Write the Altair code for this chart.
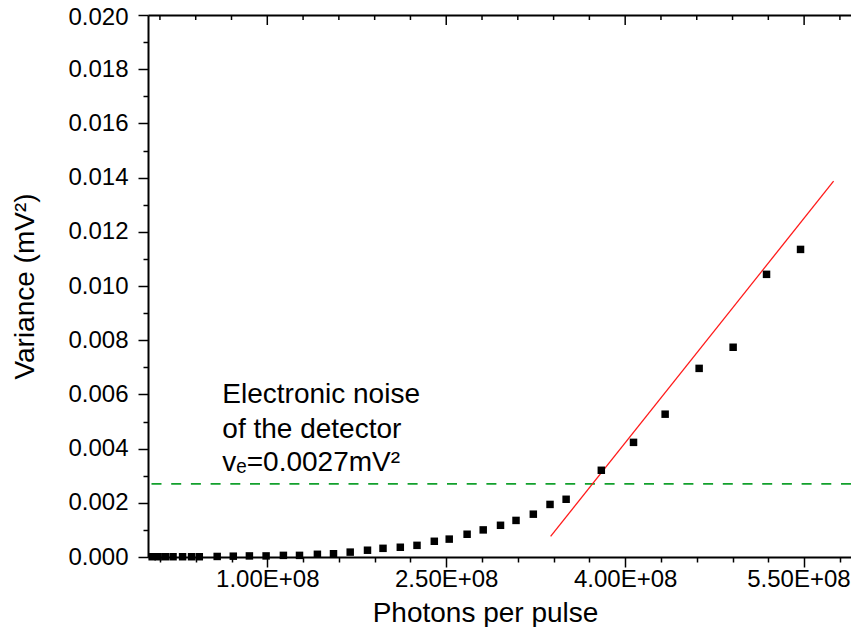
import altair as alt
import pandas as pd

# ---------------- data ----------------
photons = [0.035e8, 0.085e8, 0.145e8, 0.21e8, 0.29e8, 0.365e8, 0.43e8,
           0.58e8, 0.715e8, 0.85e8, 0.99e8, 1.135e8, 1.27e8, 1.42e8, 1.555e8, 1.695e8, 1.84e8,
           1.97e8, 2.115e8, 2.255e8, 2.40e8, 2.525e8, 2.675e8, 2.81e8, 2.955e8, 3.085e8, 3.23e8,
           3.37e8, 3.505e8, 3.80e8, 4.07e8, 4.335e8, 4.62e8, 4.905e8, 5.185e8, 5.47e8]
variance = [0.00001, 0.00001, 0.00001, 0.00001, 0.00001, 0.00001, 0.00001,
            0.00002, 0.00003, 0.00004, 0.00004, 0.00006, 0.00006, 0.00010, 0.00012, 0.00018, 0.00025,
            0.00032, 0.00036, 0.00043, 0.00058, 0.00066, 0.00084, 0.00100, 0.00117, 0.00135, 0.00158,
            0.00194, 0.00213, 0.00320, 0.00423, 0.00527, 0.00696, 0.00774, 0.01043, 0.01135]

fit_x = [3.375e8, 5.747e8]
fit_y = [0.00076, 0.01387]

noise_level = [0.0027]

x_major = [1.0e8, 2.5e8, 4.0e8, 5.5e8]
x_minor = [0.1e8, 0.4e8, 0.7e8, 1.3e8, 1.6e8, 1.9e8, 2.2e8, 2.8e8, 3.1e8, 3.4e8, 3.7e8,
           4.3e8, 4.6e8, 4.9e8, 5.2e8, 5.8e8]
y_major = [0.000, 0.002, 0.004, 0.006, 0.008, 0.010, 0.012, 0.014, 0.016, 0.018, 0.020]
y_minor = [0.001, 0.003, 0.005, 0.007, 0.009, 0.011, 0.013, 0.015, 0.017, 0.019]

note_lines = ["Electronic noise", "of the detector", "v\u2091=0.0027mV\u00b2"]
note_x = [0.623e8, 0.623e8, 0.623e8]
note_y = [0.00568, 0.00439, 0.00317]

x_title = "Photons per pulse"
y_title = "Variance (mV\u00b2)"

# ---------------- styling ----------------
W, H = 703, 542
XMAX = 5.893e8           # the visible part of the axis (plot is cropped at the right)
FONT = "Liberation Sans"
GREEN = "#12a02c"

xs = alt.Scale(domain=[0, XMAX], nice=False, zero=False)
ys = alt.Scale(domain=[0, 0.020], nice=False, zero=False)

pts_df = pd.DataFrame({"photons": photons, "variance": variance})
fit_df = pd.DataFrame({"x": fit_x, "y": fit_y})
noise_df = pd.DataFrame({"v": noise_level})
note_df = pd.DataFrame({"x": note_x, "y": note_y, "text": note_lines})
xmaj_df = pd.DataFrame({"t": x_major})
xmin_df = pd.DataFrame({"t": x_minor})

x_axis = alt.Axis(orient="bottom", values=x_major,
                  labelExpr="format(datum.value / 1e8, '.2f') + 'E+08'",
                  tickSize=10, tickWidth=1.5, tickColor="black",
                  domain=True, domainWidth=2, domainColor="black", grid=False,
                  labelFont=FONT, labelFontSize=24, labelColor="black", labelPadding=0,
                  labelFlush=50, labelFlushOffset=46, labelOverlap=False,
                  title=x_title, titleFont=FONT, titleFontSize=28, titleFontWeight="normal",
                  titleColor="black", titleX=337, titleY=64, titleAlign="center",
                  titleBaseline="alphabetic")
y_axis = alt.Axis(orient="left", values=y_major, format=".3f",
                  tickSize=10, tickWidth=1.5, tickColor="black",
                  domain=True, domainWidth=2, domainColor="black", grid=False,
                  labelFont=FONT, labelFontSize=24, labelColor="black", labelPadding=10,
                  labelOffset={"condition": {"test": "datum.value > 0.0199", "value": 2}, "value": 0},
                  labelFlush=False, labelOverlap=False,
                  title=y_title, titleFont=FONT, titleFontSize=28, titleFontWeight="normal",
                  titleColor="black", titleX=-123, titleBaseline="middle", titleAngle=270)
x_minor_axis = alt.Axis(orient="bottom", values=x_minor, tickSize=5, tickWidth=1.5,
                        tickColor="black", labels=False, domain=False, grid=False, title=None)
y_minor_axis = alt.Axis(orient="left", values=y_minor, tickSize=5, tickWidth=1.5,
                        tickColor="black", labels=False, domain=False, grid=False, title=None)
top_axis = alt.Axis(orient="top", ticks=False, labels=False, domain=True, domainWidth=2,
                    domainColor="black", grid=False, title=None)

noise = alt.Chart(noise_df).mark_rule(color=GREEN, strokeWidth=1.6, strokeDash=[10, 9.7]).encode(
    y=alt.Y("v:Q", scale=ys, axis=y_minor_axis))

fit = alt.Chart(fit_df).mark_line(color="#ff1a1a", strokeWidth=1.3).encode(
    x=alt.X("x:Q", scale=xs, axis=top_axis),
    y=alt.Y("y:Q", scale=ys, axis=None))

points = alt.Chart(pts_df).mark_point(shape="square", filled=True, size=56, color="black",
                                      opacity=1).encode(
    x=alt.X("photons:Q", scale=xs, axis=x_axis),
    y=alt.Y("variance:Q", scale=ys, axis=y_axis))

top_major = alt.Chart(xmaj_df).mark_rule(color="black", strokeWidth=1.5).encode(
    x=alt.X("t:Q", scale=xs, axis=None), y=alt.value(0), y2=alt.value(10))
top_minor = alt.Chart(xmin_df).mark_rule(color="black", strokeWidth=1.5).encode(
    x=alt.X("t:Q", scale=xs, axis=x_minor_axis), y=alt.value(0), y2=alt.value(5))

notes = alt.Chart(note_df).mark_text(align="left", baseline="alphabetic", font=FONT,
                                     fontSize=28, color="black").encode(
    x=alt.X("x:Q", scale=xs, axis=None),
    y=alt.Y("y:Q", scale=ys, axis=None),
    text="text:N")

chart = alt.layer(noise, fit, points, top_major, top_minor, notes).resolve_scale(
    x="independent", y="independent"
).properties(
    width=W, height=H,
    autosize=alt.AutoSizeParams(type="none"),
    padding={"left": 140, "top": 7, "right": 0, "bottom": 70},
    background="white",
).configure_view(strokeWidth=0)

chart.save("out.html", embed_options={"renderer": "svg", "actions": False})
